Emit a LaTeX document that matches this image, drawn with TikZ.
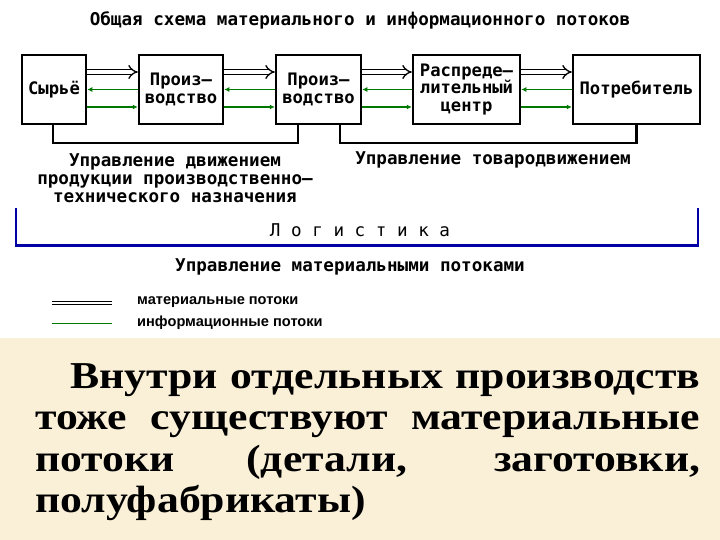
\documentclass[tikz,border=0pt]{standalone}
\usepackage{fontspec}
\setmainfont{Liberation Serif}
\setmonofont{DejaVu Sans Mono}
\newfontfamily\legendfont{Liberation Sans}
\newfontfamily\bodyfont[FakeStretch=1.15]{Liberation Serif}
\usepackage{tikz}
\usetikzlibrary{arrows.meta}
\usetikzlibrary{positioning}

\definecolor{infogreen}{RGB}{0,120,0}
\definecolor{logblue}{RGB}{0,0,165}
\definecolor{paper}{RGB}{250,240,216}

\begin{document}
\begin{tikzpicture}[x=1pt, y=-1pt,
	box/.style={draw, line width=2.5pt, inner sep=0pt, align=center, minimum height=69pt,
		font=\ttfamily\bfseries\fontsize{17.2}{17.5}\selectfont},
	caption/.style={inner sep=0pt, align=center, font=\ttfamily\bfseries\fontsize{17.6}{18}\selectfont},
	matflow/.style={double, double distance=3.5pt, line width=1.3pt, -{Implies}},
	infoflow/.style={infogreen, line width=1.3pt, -{Latex[length=5pt,width=5pt]}}]
			\useasboundingbox (0,0) rectangle (720,540);
			\fill[paper] (0,338) rectangle (720,540);
			
			\node[caption] (T) at (360,20) {Общая схема материального и информационного потоков};
			
			\node[box, minimum width=64pt] (0) at (54,89.5) {Сырьё};
			\node[box, minimum width=84pt] (1) at (181,89.5) {Произ–\\водство};
			\node[box, minimum width=85pt] (2) at (318.5,89.5) {Произ–\\водство};
			\node[box, minimum width=107pt] (3) at (466.5,89.5) {Распреде–\\лительный\\центр};
			\node[box, minimum width=127pt] (4) at (636.5,89.5) {Потребитель};
			
			\def\dy{17.5pt}
			
			\draw[matflow] ([yshift=\dy]0.east) -- ([yshift=\dy]1.west);
			\draw[matflow] ([yshift=\dy]1.east) -- ([yshift=\dy]2.west);
			\draw[matflow] ([yshift=\dy]2.east) -- ([yshift=\dy]3.west);
			\draw[matflow] ([yshift=\dy]3.east) -- ([yshift=\dy]4.west);
			
			\draw[infoflow] (1.west) -- (0.east);
			\draw[infoflow] (2.west) -- (1.east);
			\draw[infoflow] (3.west) -- (2.east);
			\draw[infoflow] (4.west) -- (3.east);
			
			\draw[infoflow] ([yshift=-\dy]0.east) -- ([yshift=-\dy]1.west);
			\draw[infoflow] ([yshift=-\dy]1.east) -- ([yshift=-\dy]2.west);
			\draw[infoflow] ([yshift=-\dy]2.east) -- ([yshift=-\dy]3.west);
			\draw[infoflow] ([yshift=-\dy]3.east) -- ([yshift=-\dy]4.west);
			
			\draw[line width=2.5pt] ([xshift=-1pt]0.south) -- ++(0,18) -| ([xshift=-20.5pt]2.south);
			\draw[line width=2.5pt] ([xshift=21.5pt]2.south) -- ++(0,18) -| (4.south);
			
			\node[caption] (C1) at (175,178) {Управление движением\\продукции производственно–\\технического назначения};
			\node[caption] (C2) at (493,160) {Управление товародвижением};
			
			\draw[logblue, line width=2pt] (16,208) -- (16,245);
			\draw[logblue, line width=2pt] (698,208) -- (698,245);
			\draw[logblue, line width=3pt] (15,245) -- (699,245);
			\node[caption, font=\ttfamily\fontsize{17.6}{18}\selectfont] (L) at (360,230) {Л о г и с т и к а};
			
			\node[caption] (C3) at (350,267) {Управление материальными потоками};
			
			% legend
			\draw[double, double distance=2pt, line width=1pt] (52,303) -- (112,303);
			\draw[infogreen, line width=0.6pt] (52,323) -- (112,323);
			\node[anchor=west, inner sep=0pt, font=\legendfont\bfseries\fontsize{14.6}{16}\selectfont] (M) at (137,302) {материальные потоки};
			\node[anchor=west, inner sep=0pt, font=\legendfont\bfseries\fontsize{14.6}{16}\selectfont] (I) at (137,323) {информационные потоки};
			
			\node[anchor=base west, inner sep=0pt, text width=665pt, align=justify,
				font=\bodyfont\bfseries\fontsize{38}{41.5}\selectfont] (P) at (35,388)
				{\hspace*{35pt}Внутри отдельных производств\linebreak тоже существуют материальные\linebreak потоки (детали, заготовки,\linebreak полуфабрикаты)};
			
		\end{tikzpicture}
\end{document}
